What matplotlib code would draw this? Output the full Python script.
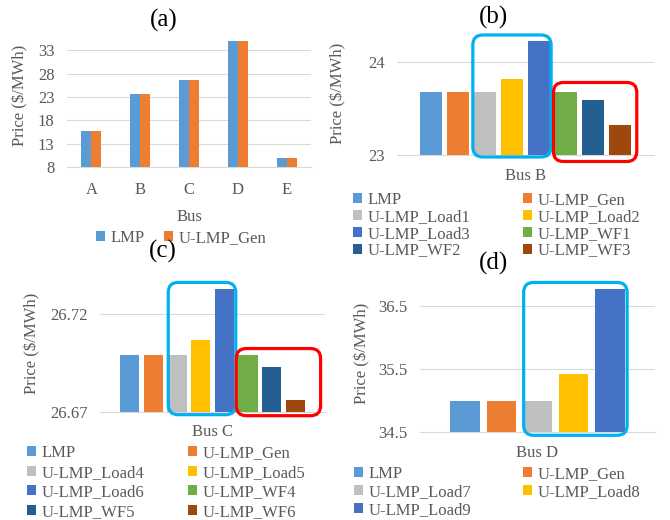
import numpy as np
import matplotlib
matplotlib.use('Agg')
import matplotlib.pyplot as plt
from matplotlib.patches import FancyBboxPatch, Patch
from matplotlib.transforms import IdentityTransform

plt.rcParams['font.family'] = ['Liberation Serif', 'DejaVu Serif']

W, H = 670, 520
GRAY_TXT = '#595959'
GRID = '#D9D9D9'

# ---- data ----
buses = ['A', 'B', 'C', 'D', 'E']
lmp_all = [15.7, 23.68, 26.699, 35.0, 10.0]
ulmp_gen_all = [15.7, 23.68, 26.699, 35.0, 10.0]

labels_b = ['LMP', 'U-LMP_Gen', 'U-LMP_Load1', 'U-LMP_Load2', 'U-LMP_Load3',
            'U-LMP_WF1', 'U-LMP_WF2', 'U-LMP_WF3']
values_b = [23.68, 23.68, 23.68, 23.82, 24.23, 23.68, 23.59, 23.32]

labels_c = ['LMP', 'U-LMP_Gen', 'U-LMP_Load4', 'U-LMP_Load5', 'U-LMP_Load6',
            'U-LMP_WF4', 'U-LMP_WF5', 'U-LMP_WF6']
values_c = [26.699, 26.699, 26.699, 26.7067, 26.7326, 26.699, 26.6929, 26.676]

labels_d = ['LMP', 'U-LMP_Gen', 'U-LMP_Load7', 'U-LMP_Load8', 'U-LMP_Load9']
values_d = [35.0, 35.0, 35.0, 35.43, 36.76]

colors = ['#5B9BD5', '#ED7D31', '#BFBFBF', '#FFC000', '#4472C4',
          '#70AD47', '#255E91', '#9E480E']

fig = plt.figure(figsize=(W / 100, H / 100), dpi=100)


def make_ax(left, bottom, width, height):
    # positions given in pixels (top-left origin)
    ax = fig.add_axes([left / W, 1 - bottom / H, width / W, height / H])
    for s in ['top', 'right', 'left']:
        ax.spines[s].set_visible(False)
    ax.spines['bottom'].set_color(GRID)
    ax.spines['bottom'].set_linewidth(0.75)
    ax.grid(axis='y', color=GRID, linewidth=0.75)
    ax.set_axisbelow(True)
    ax.tick_params(length=0, labelsize=12, labelcolor=GRAY_TXT, pad=9)
    return ax


def style_ylabel(ax, xfrac, yfrac):
    ax.set_ylabel('Price ($/MWh)', fontsize=12, color=GRAY_TXT)
    ax.yaxis.set_label_coords(xfrac, yfrac)


def group_box(ax, x, vals, i0, i1, bw, color, pads, base):
    # rounded box around bars i0..i1, pads in pixels (l, r, t, b)
    l, r, t, b = pads
    x0, y0 = ax.transData.transform((x[i0] - bw / 2, base))
    x1, y1 = ax.transData.transform((x[i1] + bw / 2, max(vals[i0:i1 + 1])))
    box = FancyBboxPatch((x0 - l, y0 - b), (x1 + r) - (x0 - l), (y1 + t) - (y0 - b),
                         boxstyle='round,pad=0,rounding_size=10',
                         transform=IdentityTransform(), fill=False,
                         edgecolor=color, linewidth=2.3, clip_on=False, zorder=5)
    fig.add_artist(box)


def two_col_legend(labels, cols, x1, x2, ytop, spacing):
    handles = [Patch(facecolor=c, edgecolor='none') for c in cols]
    for xs, hs, ls in [(x1, handles[0::2], labels[0::2]), (x2, handles[1::2], labels[1::2])]:
        fig.legend(hs, ls, loc='upper left', bbox_to_anchor=(xs / W, 1 - ytop / H),
                   frameon=False, fontsize=12, borderpad=0, borderaxespad=0,
                   handlelength=0.55, handleheight=0.55, handletextpad=0.3,
                   labelspacing=spacing, labelcolor=GRAY_TXT)


# ---- (a) ----
ax = make_ax(67, 167, 244, 128.3)
xa = np.arange(len(buses))
bw = 0.205
ax.bar(xa - bw / 2, lmp_all, bw, color=colors[0], label='LMP')
ax.bar(xa + bw / 2, ulmp_gen_all, bw, color=colors[1], label='U-LMP_Gen')
ax.set_xlim(-0.5, 4.5)
ax.set_ylim(8, 35.5)
ax.set_yticks([8, 13, 18, 23, 28, 33])
ax.set_xticks(xa)
ax.set_xticklabels(buses)
ax.tick_params(axis='x', pad=11)
ax.set_xlabel('Bus', fontsize=12, color=GRAY_TXT, labelpad=8)
style_ylabel(ax, -0.16, 0.56)
ax.legend(loc='upper left', bbox_to_anchor=(96 / W, 1 - 230 / H), bbox_transform=fig.transFigure,
          ncol=2, frameon=False, fontsize=12, borderpad=0, borderaxespad=0,
          handlelength=0.55, handleheight=0.55, handletextpad=0.3, columnspacing=1.2,
          labelcolor=GRAY_TXT)
fig.text(164 / W, 1 - 20 / H, '(a)', fontsize=18, ha='center', va='center')


def single_bus_panel(rect, labels, vals, bus, ylim, yticks, ylab_xy):
    ax = make_ax(*rect)
    n = len(vals)
    x = np.arange(n)
    bw = 0.82
    ax.bar(x, vals, bw, color=colors[:n])
    ax.set_xlim(-0.5 - 0.75, n - 0.5 + 0.75)
    ax.set_ylim(*ylim)
    ax.set_yticks(yticks)
    ax.set_xticks([(n - 1) / 2])
    ax.set_xticklabels([bus])
    style_ylabel(ax, *ylab_xy)
    return ax, x, bw


# ---- (b) ----
axb, xb, bwb = single_bus_panel((397, 155, 257, 120.5), labels_b, values_b, 'Bus B',
                                (23, 24.3), [23, 24], (-0.195, 0.51))
axb.set_yticklabels(['23', '24'])
fig.text(493 / W, 1 - 17 / H, '(b)', fontsize=18, ha='center', va='center')

# ---- (c) ----
axc, xc, bwc = single_bus_panel((100, 411.7, 225, 127), labels_c, values_c, 'Bus C',
                                (26.67, 26.735), [26.67, 26.72], (-0.267, 0.54))
axc.set_yticklabels(['26.67', '26.72'])
fig.text(163 / W, 1 - 251 / H, '(c)', fontsize=18, ha='center', va='center')

# ---- (d) ----
axd, xd, bwd = single_bus_panel((420, 432.3, 235, 145.4), labels_d, values_d, 'Bus D',
                                (34.5, 36.8), [34.5, 35.5, 36.5], (-0.213, 0.54))
axd.set_yticklabels(['34.5', '35.5', '36.5'])
fig.text(493 / W, 1 - 263 / H, '(d)', fontsize=18, ha='center', va='center')

# ---- highlight boxes ----
group_box(axb, xb, values_b, 2, 4, bwb, '#00B0F0', (1, 1, 6, 2), 23)
group_box(axb, xb, values_b, 5, 7, bwb, '#FF0000', (1.5, 5.5, 9.5, 6.5), 23)
group_box(axc, xc, values_c, 2, 4, bwc, '#00B0F0', (-1, 1.7, 7, 3), 26.67)
group_box(axc, xc, values_c, 5, 7, bwc, '#FF0000', (2, 15.5, 6.5, 4), 26.67)
group_box(axd, xd, values_d, 2, 4, bwd, '#00B0F0', (-1, 2.5, 7, 3), 34.5)

# ---- legends ----
two_col_legend(labels_b, colors, 353, 523, 192, 0.05)
two_col_legend(labels_c, colors, 27, 188, 445, 0.22)
two_col_legend(labels_d, colors, 354, 523, 466, 0.12)

fig.savefig('out.png', dpi=100)
